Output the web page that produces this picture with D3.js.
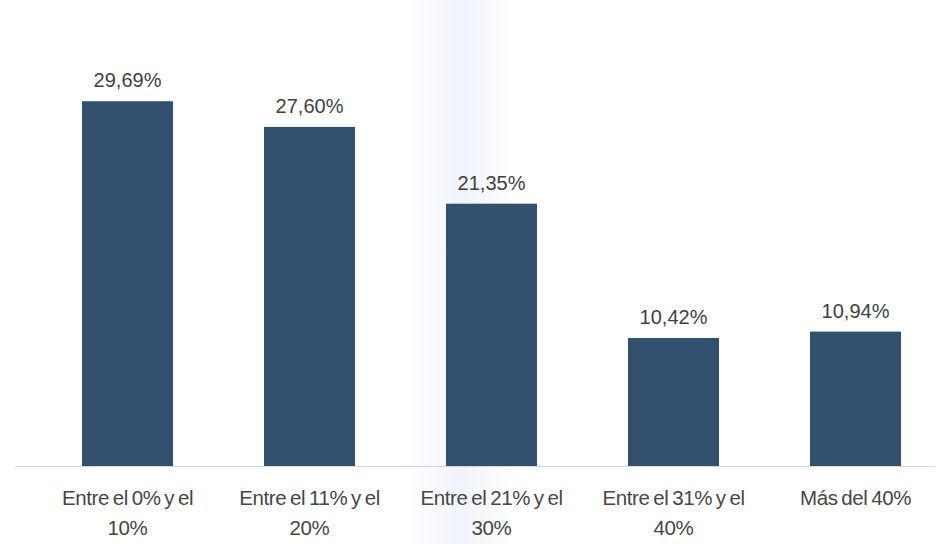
<!DOCTYPE html>
<html lang="es">
<head>
    <meta charset="UTF-8">
    <title>Distribución por tramo</title>
    <script src="https://cdn.jsdelivr.net/npm/d3@7"></script>
    <style>
        body { margin: 0; background: #ffffff; }
        .valor { font-family: "Liberation Sans", Arial, sans-serif; font-size: 20px; fill: #3f3f3f; }
        .cat text { font-family: "Liberation Sans", Arial, sans-serif; font-size: 20.5px; fill: #464646;
                    letter-spacing: -0.4px; word-spacing: -1.5px; }
    </style>
</head>
<body>
<div id="fig"></div>
<script>
    // datos
    const categorias = ["Entre el 0% y el 10%", "Entre el 11% y el 20%", "Entre el 21% y el 30%", "Entre el 31% y el 40%", "Más del 40%"]
    const valores = [29.69, 27.60, 21.35, 10.42, 10.94]

    const width = 943, height = 544
    const base = 466

    let svg = d3.select("#fig")
        .append("svg")
        .attr("width", width)
        .attr("height", height)

    // fondo con la banda azulada del escaneo
    let defs = svg.append("defs")
    let grad = defs.append("linearGradient").attr("id", "banda")
    grad.append("stop").attr("offset", "0%").attr("stop-color", "#ffffff")
    grad.append("stop").attr("offset", "43%").attr("stop-color", "#ffffff")
    grad.append("stop").attr("offset", "49%").attr("stop-color", "#f0f4fb")
    grad.append("stop").attr("offset", "55%").attr("stop-color", "#ffffff")
    grad.append("stop").attr("offset", "100%").attr("stop-color", "#ffffff")
    svg.append("rect").attr("width", width).attr("height", height).attr("fill", "url(#banda)")

    const xScale = d3.scaleBand()
        .domain(d3.range(categorias.length))
        .range([36.5, 946.5])
        .paddingInner(0.5)
        .paddingOuter(0.25)

    const yScale = d3.scaleLinear()
        .domain([0, 35])
        .range([base, 36])

    const fmt = v => d3.format(".2f")(v).replace(".", ",") + "%"

    // línea del eje
    svg.append("line")
        .attr("x1", 15).attr("x2", 935)
        .attr("y1", base + 0.5).attr("y2", base + 0.5)
        .attr("stroke", "#d6d6d6")
        .attr("stroke-width", 1.2)

    svg.selectAll(".bar")
        .data(valores)
        .enter()
        .append("rect")
        .attr("class", "bar")
        .attr("x", (d, i) => xScale(i))
        .attr("y", d => yScale(d))
        .attr("width", xScale.bandwidth())
        .attr("height", d => base - yScale(d))
        .attr("fill", "#34506f")

    svg.selectAll(".valor")
        .data(valores)
        .enter()
        .append("text")
        .attr("class", "valor")
        .attr("x", (d, i) => xScale(i) + xScale.bandwidth() / 2)
        .attr("y", d => yScale(d) - 14)
        .attr("text-anchor", "middle")
        .text(d => fmt(d))

    // eje x con etiquetas partidas en dos líneas
    const xAxis = svg.append("g")
        .attr("class", "cat")
        .attr("transform", `translate(0,${base})`)
        .call(d3.axisBottom(xScale).tickSize(0).tickPadding(0).tickFormat(i => categorias[i]))
    xAxis.select(".domain").remove()
    xAxis.selectAll("text").call(wrap, 165)

    function wrap(texts, w) {
        texts.each(function () {
            let text = d3.select(this)
            let words = text.text().split(/\s+/)
            text.text(null)
            let line = []
            let tspan = text.append("tspan").attr("x", 0).attr("y", 39)
            let lineNo = 0
            words.forEach(word => {
                line.push(word)
                tspan.text(line.join(" "))
                if (tspan.node().getComputedTextLength() > w && line.length > 1) {
                    line.pop()
                    tspan.text(line.join(" "))
                    line = [word]
                    lineNo++
                    tspan = text.append("tspan").attr("x", 0).attr("y", 39 + lineNo * 30).text(word)
                }
            })
        })
        texts.attr("dy", null)
    }
</script>
</body>
</html>
